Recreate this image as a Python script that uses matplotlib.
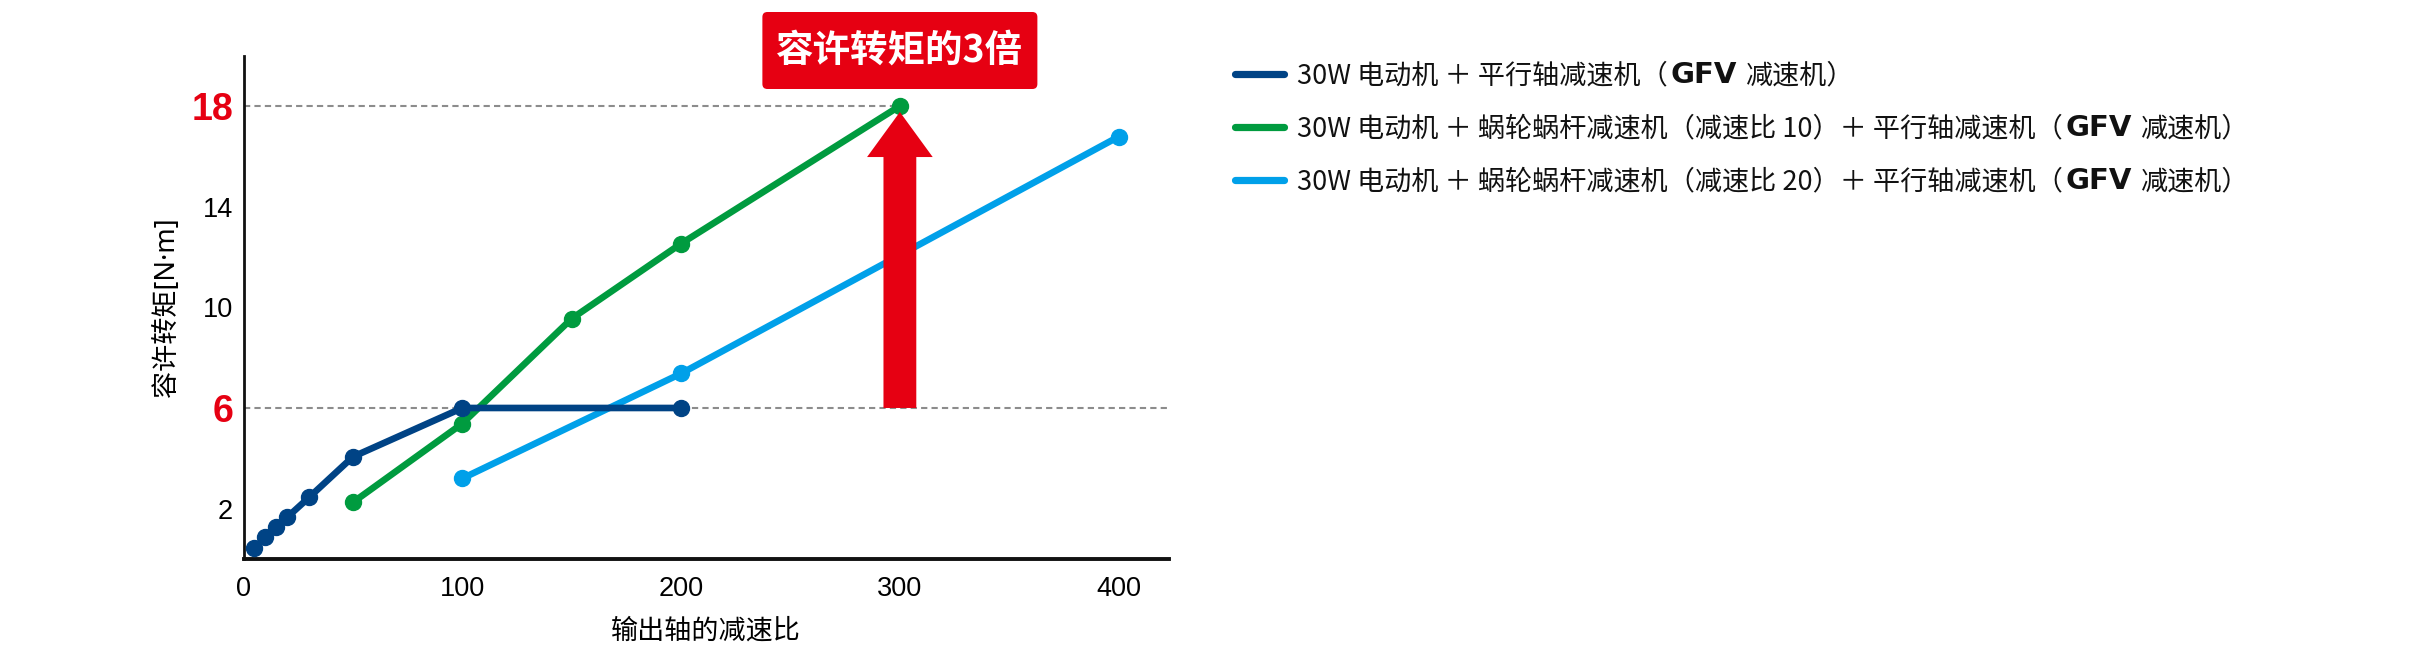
import matplotlib
matplotlib.use('Agg')
import matplotlib.pyplot as plt
from matplotlib.transforms import IdentityTransform
from matplotlib.patches import FancyArrow, FancyBboxPatch
from matplotlib.lines import Line2D
from matplotlib import font_manager

# ---------------- data ----------------
ratio_gfv = [5, 10, 15, 20, 30, 50, 100, 200]
torque_gfv = [0.43, 0.86, 1.26, 1.66, 2.45, 4.06, 6.0, 6.0]

ratio_w10 = [50, 100, 150, 200, 300]
torque_w10 = [2.25, 5.38, 9.55, 12.53, 18.0]

ratio_w20 = [100, 200, 400]
torque_w20 = [3.2, 7.37, 16.78]

series_labels = [
    ["30W 电动机 ＋ 平行轴减速机（", "GFV", "减速机）"],
    ["30W 电动机 ＋ 蜗轮蜗杆减速机（减速比 10）＋ 平行轴减速机（", "GFV", "减速机）"],
    ["30W 电动机 ＋ 蜗轮蜗杆减速机（减速比 20）＋ 平行轴减速机（", "GFV", "减速机）"],
]
series_colors = ['#004385', '#009B3F', '#00A0E9']

xticks = [0, 100, 200, 300, 400]
yticks = [2, 6, 10, 14, 18]
highlight_levels = [6, 18]
x_label = "输出轴的减速比"
y_label = "容许转矩[N·m]"
callout_text = "容许转矩的3倍"
arrow_x = 300
arrow_from = 6
arrow_to = 18

RED = '#E60012'
GRAY = '#8C8C8C'

available = {f.name for f in font_manager.fontManager.ttflist}
NUM_FONT = 'Liberation Sans Narrow' if 'Liberation Sans Narrow' in available else 'Liberation Sans'
CJK = 'Noto Sans CJK SC'

W, H = 2432, 660
fig = plt.figure(figsize=(W / 100, H / 100), dpi=100)
ax = fig.add_axes([243.5 / W, 101 / H, 925.5 / W, 503.4 / H])
ax.set_xlim(0, 423)
ax.set_ylim(0, 20)

for s in ['top', 'right']:
    ax.spines[s].set_visible(False)
ax.spines['left'].set_linewidth(2.0)
ax.spines['bottom'].set_linewidth(2.8)
ax.spines['left'].set_color('#111111')
ax.spines['bottom'].set_color('#111111')

# dashed reference lines
ax.plot([0, arrow_x], [highlight_levels[1]] * 2, ls=(0, (3, 2)), color=GRAY, lw=1.5, zorder=1)
ax.axhline(highlight_levels[0], ls=(0, (3, 2)), color=GRAY, lw=1.5, zorder=1)

# series
ax.plot(ratio_w20, torque_w20, color=series_colors[2], lw=4.8, marker='o', ms=11.5,
        solid_capstyle='round', zorder=3, clip_on=False)
ax.plot(ratio_w10, torque_w10, color=series_colors[1], lw=4.8, marker='o', ms=11.5,
        solid_capstyle='round', zorder=4, clip_on=False)
ax.plot(ratio_gfv, torque_gfv, color=series_colors[0], lw=4.8, marker='o', ms=11.5,
        solid_capstyle='round', zorder=5, clip_on=False)

# red arrow
tip = arrow_to - 0.24
arr = FancyArrow(arrow_x, arrow_from, 0, tip - arrow_from, width=15, head_width=30,
                 head_length=1.79, length_includes_head=True, color=RED, lw=0, zorder=6)
ax.add_patch(arr)

# ticks
ax.set_xticks(xticks)
ax.set_yticks(yticks)
ax.set_xticklabels([str(v) for v in xticks])
ax.set_yticklabels([str(v) for v in yticks])
ax.tick_params(axis='both', length=0)
ax.tick_params(axis='y', pad=7.5)
ax.tick_params(axis='x', pad=12.5)
for lab in ax.get_xticklabels() + ax.get_yticklabels():
    lab.set_fontfamily([NUM_FONT, 'DejaVu Sans'])
    lab.set_fontsize(19.5)
for lab, v in zip(ax.get_yticklabels(), yticks):
    if v in highlight_levels:
        lab.set_color(RED)
        lab.set_fontweight('bold')
        lab.set_fontsize(27)

ax.set_xlabel(x_label, fontsize=19.5, family=['Noto Sans', CJK, 'DejaVu Sans'], va='center')
ax.xaxis.set_label_coords(0.5, (559 - 632) / 503.4)
ax.set_ylabel(y_label, fontsize=19.5, family=['Noto Sans', CJK, 'DejaVu Sans'], va='center')
ax.yaxis.set_label_coords((167 - 243.5) / 925.5, 0.5)

# callout box
fig.canvas.draw()
renderer = fig.canvas.get_renderer()
cx = ax.transData.transform((arrow_x, 0))[0]
bw, bh = 275, 77
box = FancyBboxPatch((cx - bw / 2, H - 89), bw, bh,
                     boxstyle='round,pad=0,rounding_size=5',
                     transform=IdentityTransform(), facecolor=RED, edgecolor='none')
fig.add_artist(box)
fig.text(cx, H - 50.5, callout_text, transform=IdentityTransform(), ha='center', va='center',
         color='white', fontsize=27, fontweight='bold', family=[CJK, 'DejaVu Sans'])

# legend (manual, to allow bold GFV)
row_y = [74, 127, 180]
for (parts, color, yc) in zip(series_labels, series_colors, row_y):
    ydisp = H - yc
    fig.add_artist(Line2D([1235, 1284], [ydisp, ydisp], transform=IdentityTransform(),
                          color=color, lw=5.2, solid_capstyle='round'))
    x = 1297
    base = ydisp - 9
    styles = [dict(family=[CJK, 'DejaVu Sans'], fontweight='normal', fontsize=19.5),
              dict(family=['DejaVu Sans'], fontweight='bold', fontsize=21),
              dict(family=[CJK, 'DejaVu Sans'], fontweight='normal', fontsize=19.5)]
    gaps = [3, 9, 0]
    for part, st, g in zip(parts, styles, gaps):
        t = fig.text(x, base, part, transform=IdentityTransform(), ha='left', va='baseline',
                     color='#111111', **st)
        bb = t.get_window_extent(renderer)
        x = bb.x1 + g

fig.savefig('out.png', dpi=100)
